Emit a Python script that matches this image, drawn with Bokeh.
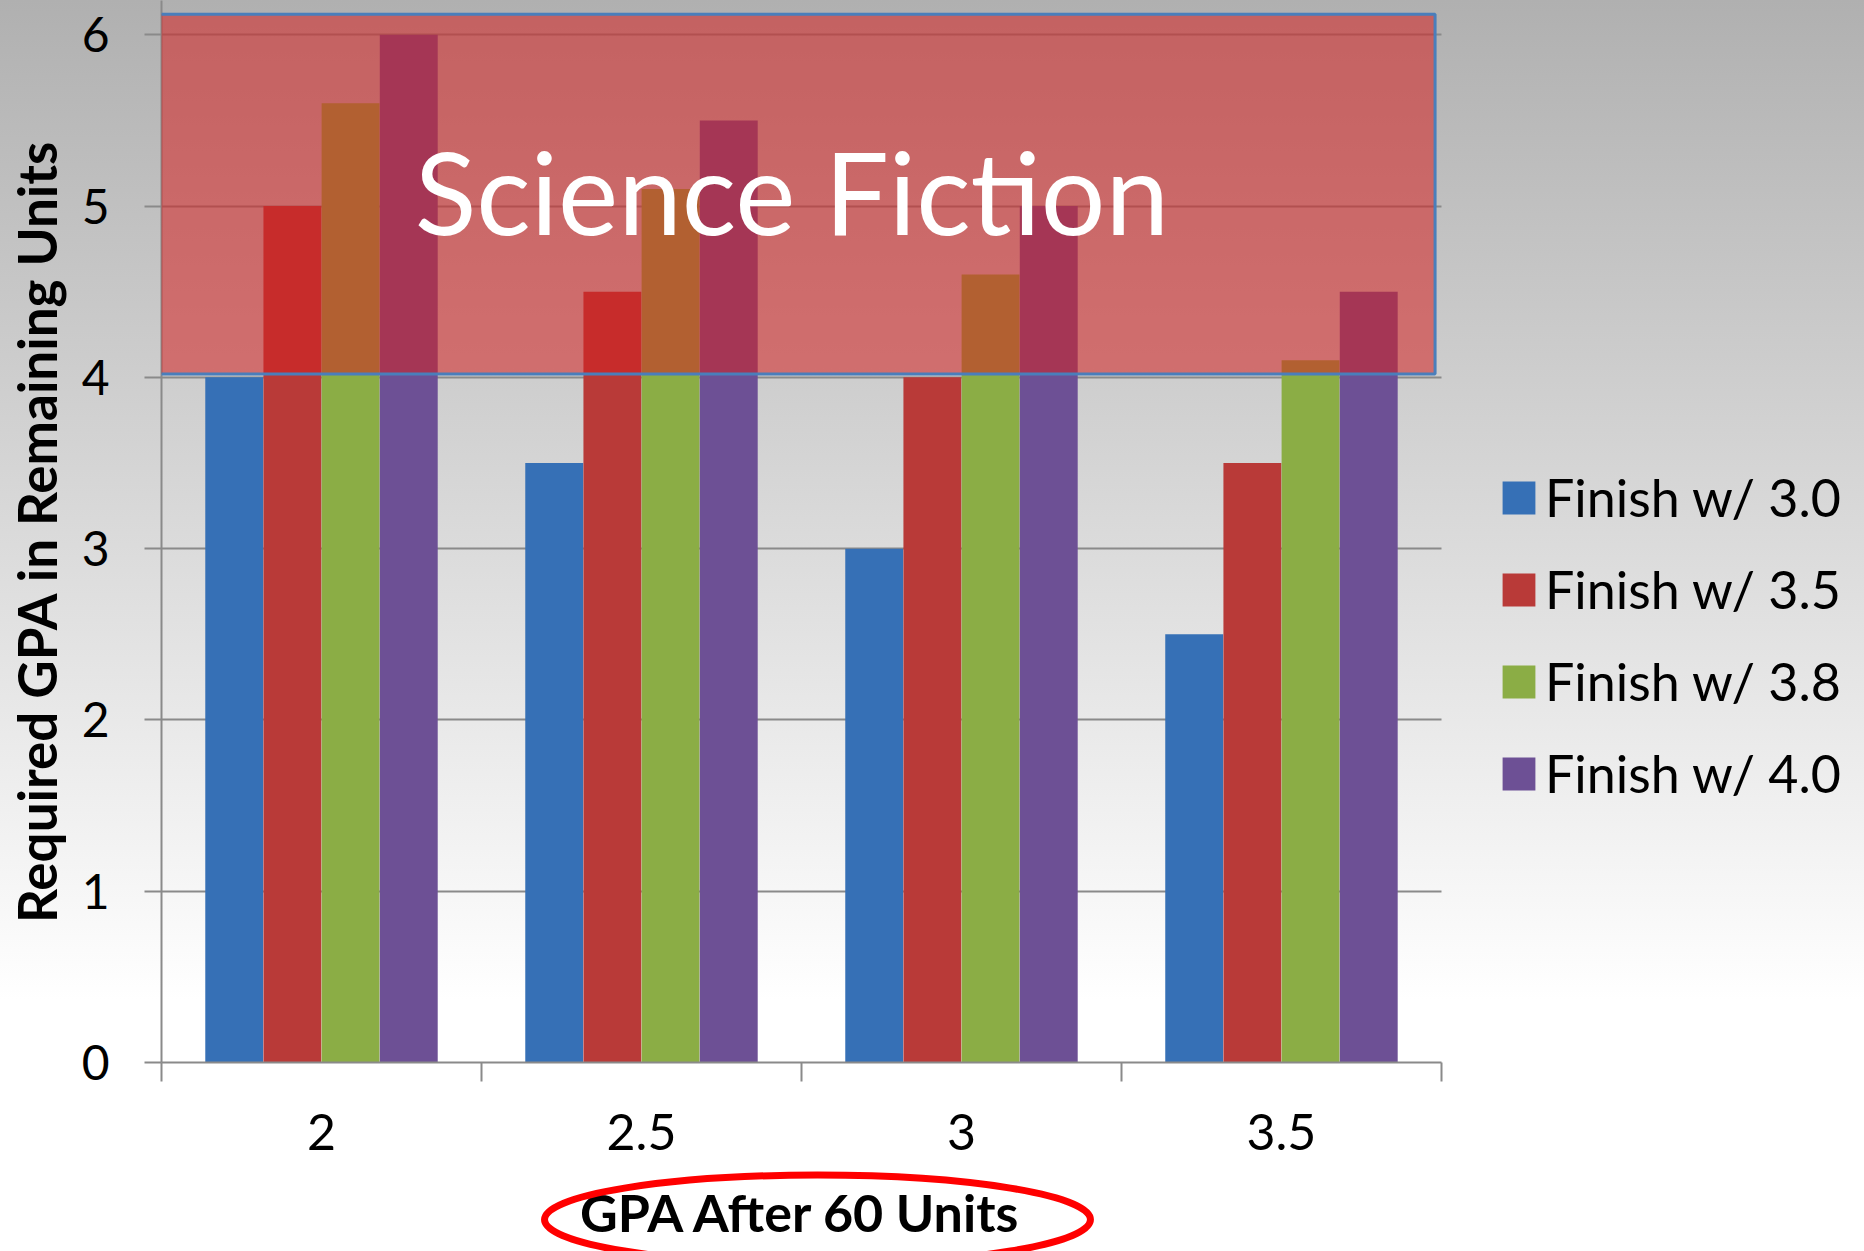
import numpy as np
from bokeh.plotting import figure
from bokeh.models import Range1d, FixedTicker, Legend, LegendItem, Label, BoxAnnotation
from bokeh.core.properties import value
from bokeh.embed import file_html
from bokeh.resources import INLINE

# ---- data ----
categories = ["2", "2.5", "3", "3.5"]
series_names = ["Finish w/ 3.0", "Finish w/ 3.5", "Finish w/ 3.8", "Finish w/ 4.0"]
finish_30 = [4.0, 3.5, 3.0, 2.5]
finish_35 = [5.0, 4.5, 4.0, 3.5]
finish_38 = [5.6, 5.1, 4.6, 4.1]
finish_40 = [6.0, 5.5, 5.0, 4.5]
y_ticks = [0, 1, 2, 3, 4, 5, 6]
zone_label = "Science Fiction"
zone_bottom = 4.02
zone_top = 6.12
x_title = "GPA After 60 Units"
y_title = "Required GPA in Remaining Units"

# ---- styles ----
FONT = "Lato"
colors = ["#3670b6", "#b93a38", "#8bad45", "#6d5095"]
grid_c = "#8a8a8a"

n = len(categories)
centers = np.arange(n) + 0.5
offsets = [-0.2727, -0.0909, 0.0909, 0.2727]
bar_w = 0.181

# frame spans to the right page edge; the chart itself occupies x in [0, n]
p = figure(width=1864, height=1251, output_backend="svg", toolbar_location=None,
           x_range=Range1d(0, 5.322), y_range=Range1d(0, 6.20),
           min_border_left=161, min_border_right=0, min_border_top=0, min_border_bottom=189,
           background_fill_color=None, border_fill_color=None, outline_line_color=None)
p.styles = {"background": "linear-gradient(to bottom, #b0b0b0 0%, #ffffff 80%, #ffffff 100%)"}

items = []
for vals, name, col, off in zip([finish_30, finish_35, finish_38, finish_40], series_names, colors, offsets):
    r = p.vbar(x=centers + off, top=vals, width=bar_w, fill_color=col, line_color=None)
    items.append(LegendItem(label=name, renderers=[r]))

# Science fiction zone
zone = BoxAnnotation(left=-0.03, right=3.98, bottom=zone_bottom, top=zone_top,
                     fill_color="#d42020", fill_alpha=0.55,
                     line_color="#4a7ebb", line_width=3, line_alpha=1.0)
p.add_layout(zone)
p.add_layout(Label(x=1.97, y=5.09, text=zone_label, text_align="center", text_baseline="alphabetic",
                   text_color="white", text_font=FONT, text_font_size="114px"))

# x-axis title, centred under the category axis, with the red ellipse round it
p.text(x=[n / 2], y=[-0.872], text=[x_title], text_align="center", text_baseline="alphabetic",
       text_color="black", text_font=value(FONT), text_font_style="bold", text_font_size="52px",
       level="annotation")
p.ellipse(x=2.05, y=-0.917, width=1.706, height=0.52, fill_color=None,
          line_color="#ff0000", line_width=7, level="annotation")

# axes
xa = p.xaxis[0]
xa.bounds = (0, n)
xa.ticker = FixedTicker(ticks=list(centers), minor_ticks=list(np.arange(n + 1)))
xa.major_label_overrides = {float(c): lab for c, lab in zip(centers, categories)}
xa.major_tick_out = 0
xa.major_tick_in = 0
xa.minor_tick_out = 19
xa.minor_tick_in = 0
xa.minor_tick_line_color = grid_c
xa.minor_tick_line_width = 2
xa.axis_line_color = grid_c
xa.axis_line_width = 2
xa.major_label_text_font = FONT
xa.major_label_text_font_size = "50px"
xa.major_label_text_color = "black"
xa.major_label_standoff = 32

ya = p.yaxis[0]
ya.ticker = FixedTicker(ticks=y_ticks, minor_ticks=[])
ya.major_tick_out = 17
ya.major_tick_in = 0
ya.major_tick_line_color = grid_c
ya.major_tick_line_width = 2
ya.axis_line_color = grid_c
ya.axis_line_width = 2
ya.major_label_text_font = FONT
ya.major_label_text_font_size = "48px"
ya.major_label_text_color = "black"
ya.major_label_standoff = 35
ya.axis_label = y_title
ya.axis_label_text_font = FONT
ya.axis_label_text_font_style = "bold"
ya.axis_label_text_font_size = "53px"
ya.axis_label_text_color = "black"
ya.axis_label_standoff = 11

p.xgrid.visible = False
p.ygrid.ticker = FixedTicker(ticks=y_ticks)
p.ygrid.cross_bounds = (0, n)
p.ygrid.grid_line_color = grid_c
p.ygrid.grid_line_width = 2

legend = Legend(items=items, location=(1337, 258), padding=0, margin=0, spacing=30,
                glyph_width=41, glyph_height=41, label_height=62, label_standoff=6,
                label_text_font=FONT, label_text_font_size="52px", label_text_color="black",
                border_line_color=None, background_fill_alpha=0)
p.add_layout(legend)

open("out.html", "w").write(file_html(p, INLINE))
